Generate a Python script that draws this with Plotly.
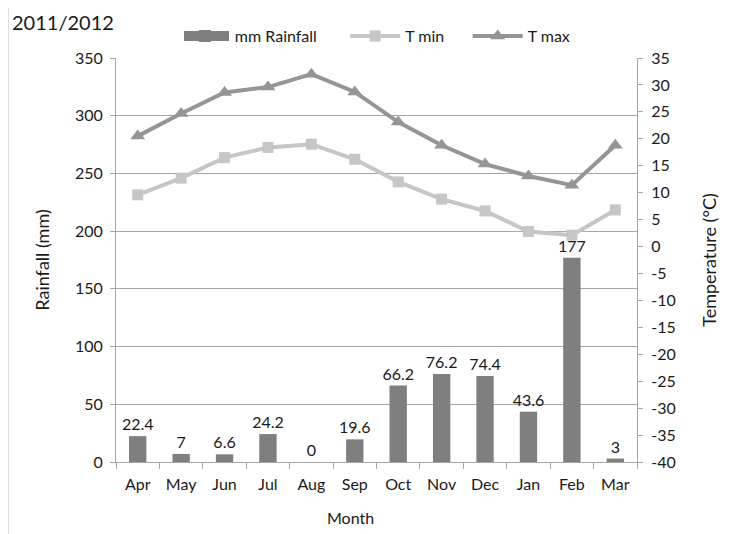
import plotly.graph_objects as go

months = ["Apr", "May", "Jun", "Jul", "Aug", "Sep", "Oct", "Nov", "Dec", "Jan", "Feb", "Mar"]
rainfall = [22.4, 7, 6.6, 24.2, 0, 19.6, 66.2, 76.2, 74.4, 43.6, 177, 3]
t_min = [9.6, 12.7, 16.5, 18.4, 19.0, 16.2, 12.0, 8.8, 6.6, 2.8, 2.1, 6.8]
t_max = [20.5, 24.7, 28.6, 29.6, 32.0, 28.7, 23.1, 18.8, 15.3, 13.1, 11.4, 18.8]
rain_labels = ["22.4", "7", "6.6", "24.2", "0", "19.6", "66.2", "76.2", "74.4", "43.6", "177", "3"]
left_ticks = [0, 50, 100, 150, 200, 250, 300, 350]
right_ticks = list(range(-40, 36, 5))
right_labels = [str(v) for v in right_ticks]

FONT = "Lato, 'Open Sans', sans-serif"
AX = "#a6a6a6"
BAR_C = "#7f7f7f"
TMIN_C = "#c6c6c6"
TMAX_C = "#959595"

fig = go.Figure()
fig.add_trace(go.Bar(
    x=months, y=rainfall, name="mm Rainfall",
    marker=dict(color=BAR_C, line=dict(width=0)),
    width=0.4,
    text=rain_labels, textposition="outside", cliponaxis=False,
    constraintext="none",
    textfont=dict(size=16, color="#1a1a1a", family=FONT),
    yaxis="y", legend="legend",
))
fig.add_trace(go.Scatter(
    x=months, y=t_min, name="T min", mode="lines+markers",
    line=dict(color=TMIN_C, width=4),
    marker=dict(symbol="square", size=11, color=TMIN_C),
    yaxis="y2", legend="legend2",
))
fig.add_trace(go.Scatter(
    x=months, y=t_max, name="T max", mode="lines+markers",
    line=dict(color=TMAX_C, width=4),
    marker=dict(symbol="triangle-up", size=13, color=TMAX_C),
    yaxis="y2", legend="legend3",
))

leg_common = dict(orientation="h", xanchor="left", yanchor="middle", y=1.054,
                  font=dict(size=16, family=FONT, color="#1a1a1a"),
                  bgcolor="rgba(0,0,0,0)", itemwidth=50)

fig.update_layout(
    width=728, height=526,
    margin=dict(l=108, r=99, t=50, b=72, autoexpand=False),
    paper_bgcolor="white", plot_bgcolor="white",
    font=dict(family=FONT, size=16, color="#1a1a1a"),
    showlegend=True,
    legend=dict(x=0.113, **leg_common),
    legend2=dict(x=0.44, **leg_common),
    legend3=dict(x=0.675, **leg_common),
    xaxis=dict(
        range=[-0.5, len(months) - 0.5], autorange=False,
        showline=True, linecolor=AX, linewidth=1,
        ticks="outside", tickson="boundaries", ticklen=6, tickcolor=AX,
        ticklabelstandoff=8,
        showgrid=False, tickfont=dict(size=16),
    ),
    yaxis=dict(
        title=dict(text="Rainfall (mm)", font=dict(size=18), standoff=20),
        range=[0, 350], tickvals=left_ticks,
        showline=True, linecolor=AX, linewidth=1,
        ticks="outside", ticklen=5, tickcolor=AX,
        ticklabelstandoff=4,
        showgrid=True, gridcolor=AX, gridwidth=1, zeroline=False,
        tickfont=dict(size=16),
    ),
    yaxis2=dict(
        title=dict(text="Temperature (°C)", font=dict(size=18), standoff=28),
        overlaying="y", side="right",
        range=[-40, 35], tickvals=right_ticks, ticktext=right_labels,
        showline=True, linecolor=AX, linewidth=1,
        ticks="outside", ticklen=5, tickcolor=AX,
        ticklabelstandoff=5,
        showgrid=False, zeroline=False,
        tickfont=dict(size=16),
    ),
    annotations=[
        dict(text="2011/2012", xref="paper", yref="paper",
             x=-0.203, y=1.089, xanchor="left", yanchor="middle",
             showarrow=False, font=dict(size=20, family=FONT, color="#1a1a1a")),
        dict(text="Month", xref="paper", yref="paper",
             x=0.45, y=-0.137, xanchor="center", yanchor="middle",
             showarrow=False, font=dict(size=16, family=FONT, color="#1a1a1a")),
    ],
    shapes=[
        dict(type="rect", xref="paper", yref="paper",
             x0=-0.2073, x1=1.1785, y0=-0.2, y1=1.126,
             line=dict(color="#bfbfbf", width=1), fillcolor="rgba(0,0,0,0)", layer="below"),
        # wide legend swatch for the rainfall bars
        dict(type="rect", xref="paper", yref="paper",
             x0=0.1305, x1=0.2169, y0=1.042, y1=1.0668,
             line=dict(width=0), fillcolor=BAR_C, layer="below"),
    ],
)

fig.write_html("out.html")
